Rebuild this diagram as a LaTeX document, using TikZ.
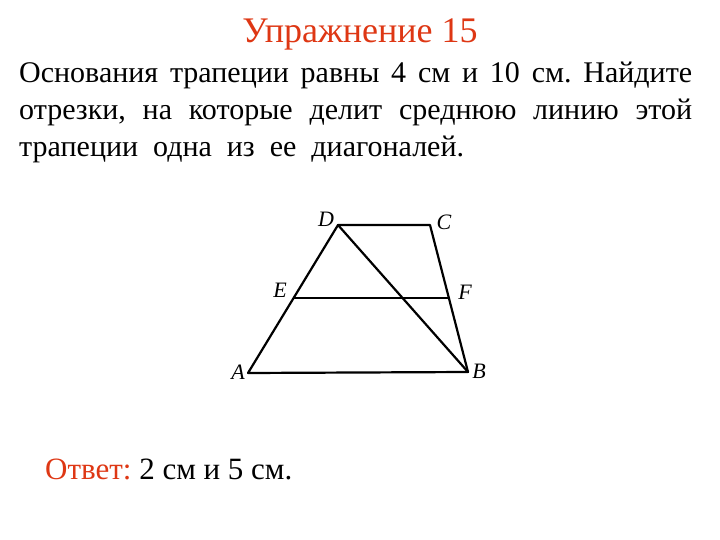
\documentclass[tikz,border=0pt]{standalone}
\usepackage{fontspec}
\setmainfont{Liberation Serif}
\definecolor{titlered}{RGB}{222,55,20}
\frenchspacing
\begin{document}
\begin{tikzpicture}[x=1pt,y=-1pt,
  seg/.style={line width=2.2pt,line join=round,line cap=round},
  lbl/.style={font=\fontsize{22}{22}\selectfont\itshape,inner sep=0pt},
  body/.style={font=\fontsize{30}{36}\selectfont,inner sep=0pt,anchor=base west}]
\useasboundingbox (0,0) rectangle (720,540);
\node[font=\fontsize{36}{42}\selectfont,text=titlered,inner sep=0pt,anchor=base] (title) at (360,43) {Упражнение 15};
\node[body] (l1) at (19,83) {\makebox[673pt][s]{Основания трапеции равны 4 см и 10 см. Найдите}};
\node[body] (l2) at (19,120) {\makebox[673pt][s]{отрезки, на которые делит среднюю линию этой}};
\node[body] (l3) at (19,157) {\spaceskip=15pt трапеции одна из ее диагоналей.};
\coordinate (A) at (248,373);
\coordinate (B) at (468,372);
\coordinate (C) at (430,225);
\coordinate (D) at (338,225);
\coordinate (E) at (294,298);
\coordinate (F) at (449,298);
\draw[seg] (A) -- (B) -- (C) -- (D) -- cycle;
\draw[seg] (D) -- (B);
\draw[seg] (E) -- (F);
\node[lbl] (lA) at (238,372) {A};
\node[lbl] (lB) at (479,371) {B};
\node[lbl] (lC) at (444,222) {C};
\node[lbl] (lD) at (326,219) {D};
\node[lbl] (lE) at (280,290) {E};
\node[lbl] (lF) at (465,292) {F};
\node[body,font=\fontsize{31}{36}\selectfont] (ans) at (45,479) {\textcolor{titlered}{Ответ:} 2 см и 5 см.};
\end{tikzpicture}
\end{document}
